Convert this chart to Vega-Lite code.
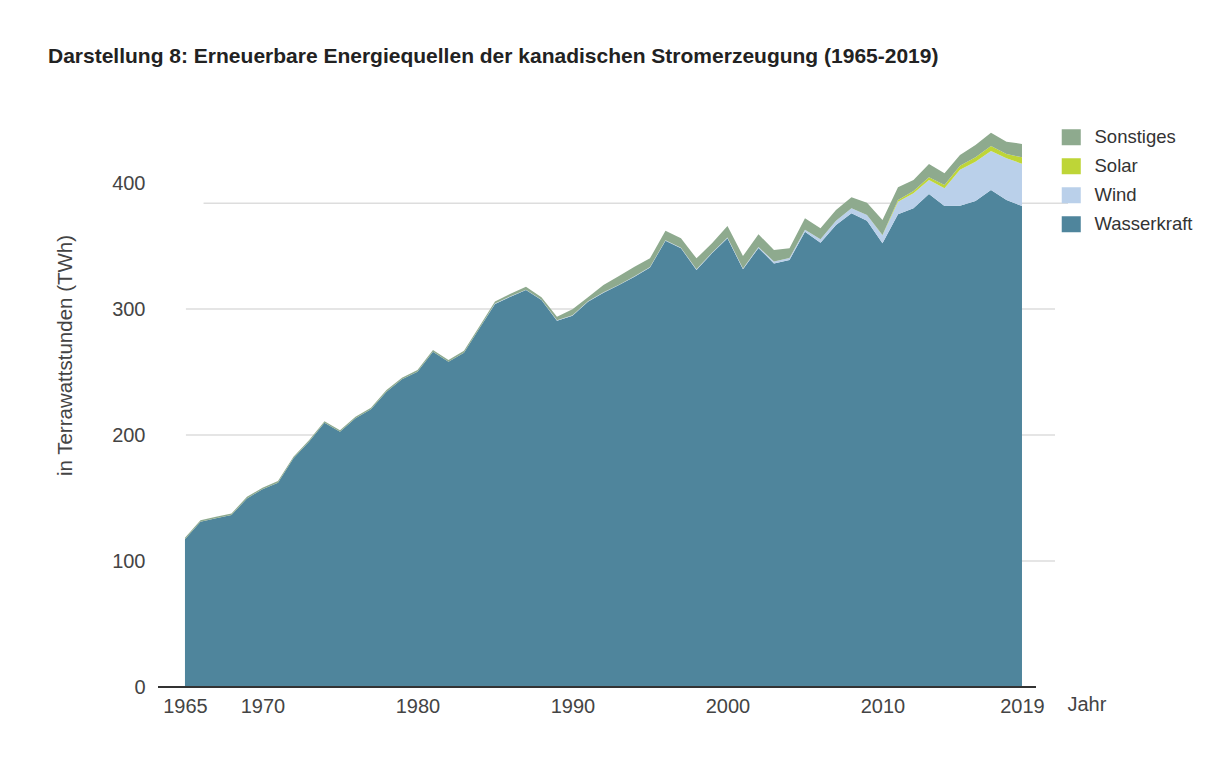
{
  "$schema": "https://vega.github.io/schema/vega-lite/v6.json",
  "width": 897,
  "height": 567,
  "autosize": {"type": "none"},
  "padding": {"left": 158, "top": 120, "right": 159, "bottom": 71},
  "background": "white",
  "config": {"view": {"stroke": null}, "font": "Liberation Sans"},
  "title": {
    "text": "Darstellung 8: Erneuerbare Energiequellen der kanadischen Stromerzeugung (1965-2019)",
    "anchor": "start", "frame": "group", "dx": -110, "offset": 53,
    "font": "Liberation Sans", "fontSize": 21, "fontWeight": "bold", "color": "#222222"
  },
  "datasets": {
    "reihenfolge": [
      {"Quelle": "Wasserkraft", "Rang": 1},
      {"Quelle": "Wind", "Rang": 2},
      {"Quelle": "Solar", "Rang": 3},
      {"Quelle": "Sonstiges", "Rang": 4}
    ],
    "gitter": [
      {"Wert": 100, "von": 1965.06, "bis": 2021.13},
      {"Wert": 200, "von": 1965.06, "bis": 2021.13},
      {"Wert": 300, "von": 1965.06, "bis": 2021.13},
      {"Wert": 384, "von": 1966.2, "bis": 2021.97}
    ]
  },
  "data": {"values": [
    {"Jahr": 1965, "Wasserkraft": 117.2, "Wind": 0, "Solar": 0, "Sonstiges": 1.2},
    {"Jahr": 1966, "Wasserkraft": 131.2, "Wind": 0, "Solar": 0, "Sonstiges": 1.2},
    {"Jahr": 1967, "Wasserkraft": 133.9, "Wind": 0, "Solar": 0, "Sonstiges": 1.2},
    {"Jahr": 1968, "Wasserkraft": 136.5, "Wind": 0, "Solar": 0, "Sonstiges": 1.2},
    {"Jahr": 1969, "Wasserkraft": 149.7, "Wind": 0, "Solar": 0, "Sonstiges": 1.2},
    {"Jahr": 1970, "Wasserkraft": 156.9, "Wind": 0, "Solar": 0, "Sonstiges": 1.2},
    {"Jahr": 1971, "Wasserkraft": 162.2, "Wind": 0, "Solar": 0, "Sonstiges": 1.2},
    {"Jahr": 1972, "Wasserkraft": 181.5, "Wind": 0, "Solar": 0, "Sonstiges": 1.2},
    {"Jahr": 1973, "Wasserkraft": 194.7, "Wind": 0, "Solar": 0, "Sonstiges": 1.2},
    {"Jahr": 1974, "Wasserkraft": 209.8, "Wind": 0, "Solar": 0, "Sonstiges": 1.2},
    {"Jahr": 1975, "Wasserkraft": 202.6, "Wind": 0, "Solar": 0, "Sonstiges": 1.2},
    {"Jahr": 1976, "Wasserkraft": 213.2, "Wind": 0, "Solar": 0, "Sonstiges": 1.3},
    {"Jahr": 1977, "Wasserkraft": 220.4, "Wind": 0, "Solar": 0, "Sonstiges": 1.3},
    {"Jahr": 1978, "Wasserkraft": 234.4, "Wind": 0, "Solar": 0, "Sonstiges": 1.3},
    {"Jahr": 1979, "Wasserkraft": 244.2, "Wind": 0, "Solar": 0, "Sonstiges": 1.3},
    {"Jahr": 1980, "Wasserkraft": 250.2, "Wind": 0, "Solar": 0, "Sonstiges": 1.4},
    {"Jahr": 1981, "Wasserkraft": 266.1, "Wind": 0, "Solar": 0, "Sonstiges": 1.4},
    {"Jahr": 1982, "Wasserkraft": 258.2, "Wind": 0, "Solar": 0, "Sonstiges": 1.4},
    {"Jahr": 1983, "Wasserkraft": 265.3, "Wind": 0, "Solar": 0, "Sonstiges": 1.5},
    {"Jahr": 1984, "Wasserkraft": 284.7, "Wind": 0, "Solar": 0, "Sonstiges": 1.6},
    {"Jahr": 1985, "Wasserkraft": 304.0, "Wind": 0.3, "Solar": 0, "Sonstiges": 1.6},
    {"Jahr": 1986, "Wasserkraft": 309.8, "Wind": 0.3, "Solar": 0, "Sonstiges": 2.0},
    {"Jahr": 1987, "Wasserkraft": 315.0, "Wind": 0.3, "Solar": 0, "Sonstiges": 2.4},
    {"Jahr": 1988, "Wasserkraft": 307.1, "Wind": 0.3, "Solar": 0, "Sonstiges": 1.9},
    {"Jahr": 1989, "Wasserkraft": 290.7, "Wind": 0.3, "Solar": 0, "Sonstiges": 2.9},
    {"Jahr": 1990, "Wasserkraft": 294.7, "Wind": 0.3, "Solar": 0, "Sonstiges": 4.8},
    {"Jahr": 1991, "Wasserkraft": 305.8, "Wind": 0.3, "Solar": 0, "Sonstiges": 3.2},
    {"Jahr": 1992, "Wasserkraft": 312.9, "Wind": 0.3, "Solar": 0, "Sonstiges": 5.8},
    {"Jahr": 1993, "Wasserkraft": 319.0, "Wind": 0.3, "Solar": 0, "Sonstiges": 6.9},
    {"Jahr": 1994, "Wasserkraft": 325.6, "Wind": 0.3, "Solar": 0, "Sonstiges": 7.7},
    {"Jahr": 1995, "Wasserkraft": 333.0, "Wind": 0.3, "Solar": 0, "Sonstiges": 6.9},
    {"Jahr": 1996, "Wasserkraft": 354.2, "Wind": 0.4, "Solar": 0, "Sonstiges": 7.5},
    {"Jahr": 1997, "Wasserkraft": 348.2, "Wind": 0.4, "Solar": 0, "Sonstiges": 7.5},
    {"Jahr": 1998, "Wasserkraft": 331.0, "Wind": 0.5, "Solar": 0, "Sonstiges": 8.7},
    {"Jahr": 1999, "Wasserkraft": 344.2, "Wind": 0.5, "Solar": 0, "Sonstiges": 7.4},
    {"Jahr": 2000, "Wasserkraft": 356.1, "Wind": 0.6, "Solar": 0, "Sonstiges": 9.2},
    {"Jahr": 2001, "Wasserkraft": 331.5, "Wind": 0.7, "Solar": 0, "Sonstiges": 9.9},
    {"Jahr": 2002, "Wasserkraft": 348.5, "Wind": 0.8, "Solar": 0, "Sonstiges": 10.0},
    {"Jahr": 2003, "Wasserkraft": 336.2, "Wind": 1.4, "Solar": 0, "Sonstiges": 9.2},
    {"Jahr": 2004, "Wasserkraft": 338.9, "Wind": 1.5, "Solar": 0, "Sonstiges": 7.8},
    {"Jahr": 2005, "Wasserkraft": 361.4, "Wind": 1.5, "Solar": 0, "Sonstiges": 9.1},
    {"Jahr": 2006, "Wasserkraft": 352.6, "Wind": 2.7, "Solar": 0, "Sonstiges": 8.7},
    {"Jahr": 2007, "Wasserkraft": 366.7, "Wind": 3.4, "Solar": 0, "Sonstiges": 8.5},
    {"Jahr": 2008, "Wasserkraft": 375.9, "Wind": 4.0, "Solar": 0, "Sonstiges": 8.7},
    {"Jahr": 2009, "Wasserkraft": 370.1, "Wind": 4.5, "Solar": 0.1, "Sonstiges": 9.7},
    {"Jahr": 2010, "Wasserkraft": 352.1, "Wind": 6.4, "Solar": 0.3, "Sonstiges": 11.8},
    {"Jahr": 2011, "Wasserkraft": 375.1, "Wind": 10.1, "Solar": 1.3, "Sonstiges": 10.1},
    {"Jahr": 2012, "Wasserkraft": 379.9, "Wind": 11.9, "Solar": 1.9, "Sonstiges": 8.7},
    {"Jahr": 2013, "Wasserkraft": 391.3, "Wind": 11.1, "Solar": 2.1, "Sonstiges": 10.6},
    {"Jahr": 2014, "Wasserkraft": 381.7, "Wind": 14.1, "Solar": 2.6, "Sonstiges": 9.3},
    {"Jahr": 2015, "Wasserkraft": 382.0, "Wind": 28.6, "Solar": 3.1, "Sonstiges": 8.5},
    {"Jahr": 2016, "Wasserkraft": 385.7, "Wind": 31.2, "Solar": 3.5, "Sonstiges": 9.8},
    {"Jahr": 2017, "Wasserkraft": 394.4, "Wind": 31.0, "Solar": 4.0, "Sonstiges": 10.5},
    {"Jahr": 2018, "Wasserkraft": 386.5, "Wind": 33.1, "Solar": 3.4, "Sonstiges": 9.8},
    {"Jahr": 2019, "Wasserkraft": 381.7, "Wind": 33.6, "Solar": 5.1, "Sonstiges": 10.6}
  ]},
  "layer": [
    {
      "data": {"name": "gitter"},
      "mark": {"type": "rule", "color": "#dddddd", "strokeWidth": 1.5},
      "encoding": {
        "x": {"field": "von", "type": "quantitative"},
        "x2": {"field": "bis"},
        "y": {"field": "Wert", "type": "quantitative"}
      }
    },
    {
      "transform": [
        {"fold": ["Wasserkraft", "Wind", "Solar", "Sonstiges"], "as": ["Quelle", "TWh"]},
        {"lookup": "Quelle", "from": {"data": {"name": "reihenfolge"}, "key": "Quelle", "fields": ["Rang"]}}
      ],
      "mark": {"type": "area", "interpolate": "linear"},
      "encoding": {
        "x": {
          "field": "Jahr", "type": "quantitative",
          "scale": {"domain": [1963.26, 2021.13], "nice": false, "zero": false},
          "axis": {
            "values": [1965, 1970, 1980, 1990, 2000, 2010, 2019], "format": "d",
            "domain": false, "ticks": false, "grid": false, "labelOverlap": false, "labelFlush": false,
            "labelPadding": 9, "labelFontSize": 20, "labelColor": "#444444", "labelFont": "Liberation Sans",
            "title": "Jahr", "titleX": 909, "titleY": 17, "titleAlign": "left", "titleBaseline": "middle",
            "titleFontSize": 20, "titleFontWeight": "normal", "titleColor": "#444444", "titleFont": "Liberation Sans"
          }
        },
        "y": {
          "field": "TWh", "type": "quantitative", "stack": "zero",
          "scale": {"domain": [0, 450], "nice": false},
          "axis": {
            "values": [0, 100, 200, 300, 400], "domain": false, "ticks": false, "grid": false,
            "labelPadding": 13, "labelFontSize": 20, "labelColor": "#444444", "labelFont": "Liberation Sans",
            "title": "in Terrawattstunden (TWh)", "titleX": -93, "titleY": 235, "titleAngle": -90,
            "titleAlign": "center", "titleBaseline": "middle",
            "titleFontSize": 20.5, "titleFontWeight": "normal", "titleColor": "#444444", "titleFont": "Liberation Sans"
          }
        },
        "order": {"field": "Rang", "type": "quantitative", "sort": "ascending"},
        "color": {
          "field": "Quelle", "type": "nominal",
          "scale": {"domain": ["Sonstiges", "Solar", "Wind", "Wasserkraft"], "range": ["#8eaa8e", "#bed537", "#bad0ea", "#4f859c"]},
          "legend": {
            "orient": "none", "legendX": 904, "legendY": 8, "title": null,
            "symbolType": "M-1.19,-1H1.19V1H-1.19Z", "symbolSize": 256, "symbolStrokeWidth": 0, "symbolOpacity": 1,
            "labelFontSize": 18.5, "labelColor": "#333333", "labelFont": "Liberation Sans", "labelOffset": 14,
            "rowPadding": 10, "padding": 0
          }
        }
      }
    },
    {
      "mark": {"type": "rule", "color": "#333333", "strokeWidth": 2},
      "encoding": {"x": {"datum": 1963.26, "type": "quantitative"}, "x2": {"datum": 2019.85}, "y": {"datum": 0, "type": "quantitative"}}
    }
  ]
}
